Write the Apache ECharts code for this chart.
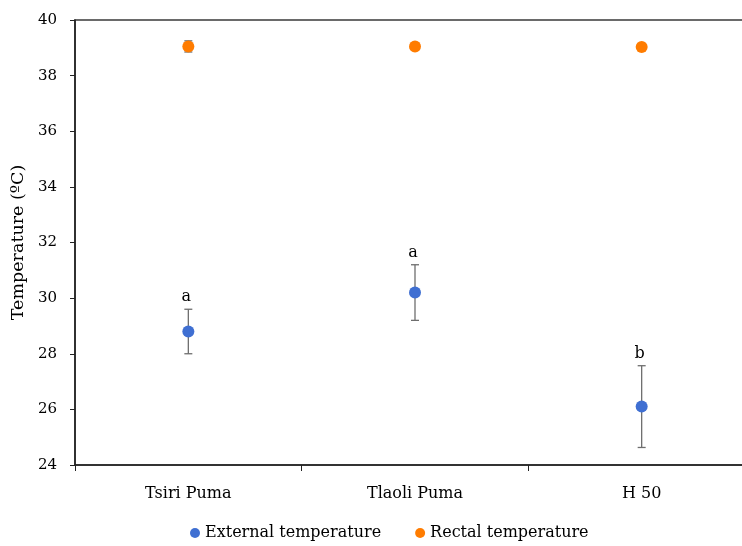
<!DOCTYPE html>
<html>
<head>
<meta charset="utf-8">
<script src="https://cdn.jsdelivr.net/npm/echarts@6/dist/echarts.min.js"></script>
<style>
  html, body { margin: 0; padding: 0; background: #fff; overflow: hidden; }
  #main { width: 755px; height: 546px; }
</style>
</head>
<body>
<div id="main"></div>
<script>
    // data
    var categories = ['Tsiri Puma', 'Tlaoli Puma', 'H 50'];
    var externalMean = [28.8, 30.2, 26.1];
    var externalErr = [0.8, 1.0, 1.47];
    var rectalMean = [39.05, 39.05, 39.03];
    var rectalErr = [0.2, 0.08, 0.05];
    var letters = ['a', 'a', 'b'];
    var yTicks = [24, 26, 28, 30, 32, 34, 36, 38, 40];

    var font = 'DejaVu Serif';

    function errData(mean, err) {
        var out = [];
        for (var i = 0; i < mean.length; i++) {
            out.push([i, mean[i] - err[i], mean[i] + err[i]]);
        }
        return out;
    }

    function makeRender(withLetters) {
        return function (params, api) {
            var idx = api.value(0);
            var lo = api.coord([idx, api.value(1)]);
            var hi = api.coord([idx, api.value(2)]);
            var style = { stroke: '#6e6e6e', lineWidth: 1.3 };
            var children = [
                { type: 'line', shape: { x1: lo[0], y1: lo[1], x2: hi[0], y2: hi[1] }, style: style },
                { type: 'line', shape: { x1: lo[0] - 4, y1: lo[1], x2: lo[0] + 4, y2: lo[1] }, style: style },
                { type: 'line', shape: { x1: hi[0] - 4, y1: hi[1], x2: hi[0] + 4, y2: hi[1] }, style: style }
            ];
            if (withLetters) {
                children.push({
                    type: 'text',
                    x: hi[0] - 2,
                    y: hi[1] - 4,
                    style: {
                        text: letters[idx], fill: '#000', fontSize: 16, fontFamily: font,
                        textAlign: 'center', textVerticalAlign: 'bottom'
                    }
                });
            }
            return { type: 'group', children: children };
        };
    }

    var chart = echarts.init(document.getElementById('main'));
    chart.setOption({
        animation: false,
        grid: {
            left: 75, right: 0, top: 20, bottom: 81,
            outerBoundsMode: 'none',
            containLabel: false,
            show: true, borderColor: '#3a3a3a', borderWidth: 1.6
        },
        legend: {
            bottom: 0,
            left: 185,
            icon: 'circle',
            itemWidth: 10,
            itemHeight: 10,
            itemGap: 34,
            textStyle: { fontFamily: font, fontSize: 16, color: '#000' },
            data: ['External temperature', 'Rectal temperature']
        },
        xAxis: {
            type: 'category',
            data: categories,
            axisLine: { lineStyle: { color: '#222', width: 1.5 } },
            axisTick: { show: true, length: 6, lineStyle: { color: '#222' } },
            axisLabel: { fontFamily: font, fontSize: 16, color: '#000', margin: 21 },
            splitLine: { show: false }
        },
        yAxis: {
            type: 'value',
            min: yTicks[0],
            max: yTicks[yTicks.length - 1],
            interval: 2,
            name: 'Temperature (ºC)',
            nameLocation: 'middle',
            nameGap: 47,
            nameTextStyle: { fontFamily: font, fontSize: 17.5, color: '#000' },
            axisLine: { show: true, lineStyle: { color: '#222', width: 1.5 } },
            axisTick: { show: true, length: 5, lineStyle: { color: '#222' } },
            axisLabel: { fontFamily: font, fontSize: 15, color: '#000', margin: 18 },
            splitLine: { show: false }
        },
        series: [
            {
                type: 'custom',
                renderItem: makeRender(true),
                data: errData(externalMean, externalErr),
                z: 2
            },
            {
                type: 'custom',
                renderItem: makeRender(false),
                data: errData(rectalMean, rectalErr),
                z: 2
            },
            {
                name: 'External temperature',
                type: 'scatter',
                symbolSize: 12,
                itemStyle: { color: '#3f6fd2', opacity: 1 },
                data: externalMean,
                z: 5
            },
            {
                name: 'Rectal temperature',
                type: 'scatter',
                symbolSize: 12,
                itemStyle: { color: '#ff7c00', opacity: 1 },
                data: rectalMean,
                z: 5
            }
        ]
    });
</script>
</body>
</html>
